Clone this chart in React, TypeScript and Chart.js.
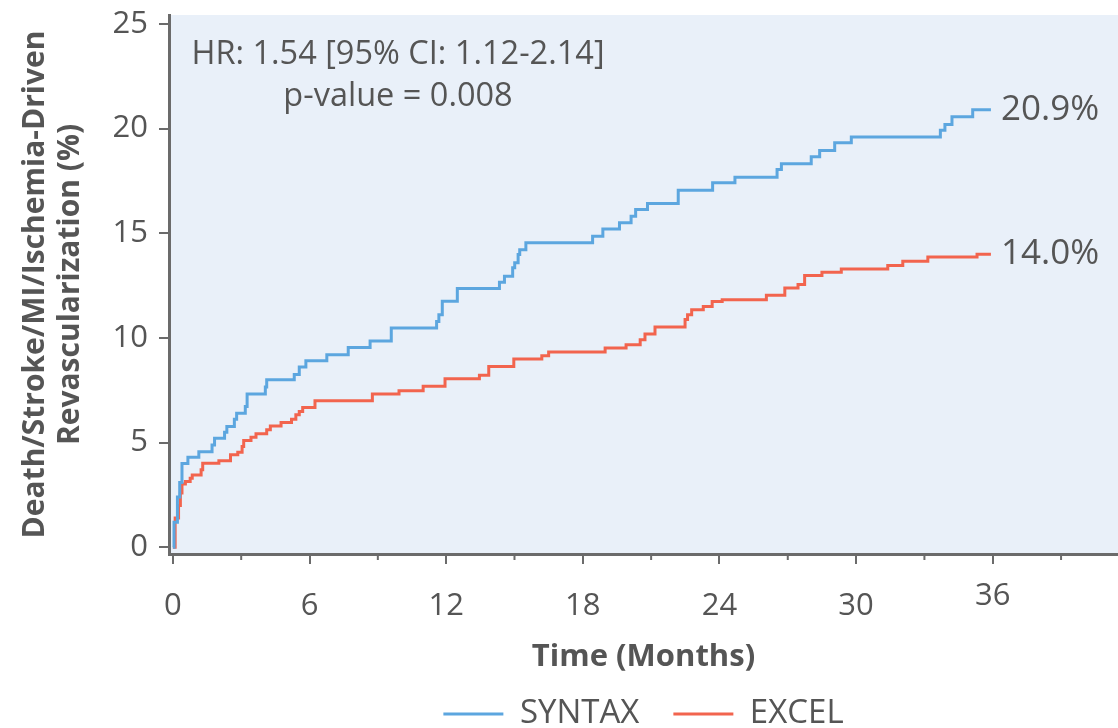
import React, { useEffect, useRef } from 'react';
import { Chart, registerables } from 'chart.js';

Chart.register(...registerables);

// ---- Data ----
const syntaxMonths = [0, 0.05, 0.2, 0.3, 0.4, 0.66, 1.14, 1.72, 1.83, 2.27, 2.37, 2.7, 2.8, 3.18, 3.26, 4.06, 4.12, 5.33, 5.55, 5.84, 6.76, 7.7, 8.66, 9.59, 11.58, 11.68, 11.83, 12.49, 14.34, 14.56, 14.92, 15.01, 15.16, 15.23, 15.5, 18.43, 18.88, 19.61, 20.12, 20.32, 20.84, 22.19, 23.7, 24.68, 26.53, 26.72, 28.03, 28.4, 29.06, 29.79, 33.7, 33.9, 34.21, 35.12, 35.92];
const syntaxRisk = [0, 1.2, 2.4, 3.1, 4.0, 4.3, 4.57, 4.89, 5.21, 5.5, 5.77, 6.12, 6.41, 6.73, 7.32, 7.66, 8.0, 8.26, 8.61, 8.91, 9.2, 9.55, 9.86, 10.48, 10.79, 11.11, 11.75, 12.36, 12.66, 12.95, 13.35, 13.59, 13.99, 14.22, 14.55, 14.86, 15.21, 15.5, 15.82, 16.14, 16.43, 17.06, 17.42, 17.68, 18.05, 18.32, 18.66, 18.96, 19.33, 19.6, 19.93, 20.2, 20.57, 20.9, 20.9];

const excelMonths = [0, 0.1, 0.25, 0.33, 0.4, 0.55, 0.76, 0.85, 1.24, 1.31, 2.02, 2.53, 2.85, 3.04, 3.11, 3.43, 3.65, 4.12, 4.28, 4.75, 5.21, 5.4, 5.55, 5.7, 6.24, 8.76, 9.93, 10.99, 11.95, 13.46, 13.87, 14.97, 16.2, 16.5, 18.98, 19.9, 20.52, 20.73, 21.17, 22.49, 22.6, 22.78, 23.29, 23.68, 24.12, 26.06, 26.87, 27.45, 27.74, 28.5, 29.35, 31.39, 32.05, 33.15, 35.31, 35.92];
const excelRisk = [0, 1.4, 2.0, 2.6, 3.03, 3.14, 3.3, 3.46, 3.7, 4.02, 4.14, 4.42, 4.54, 4.81, 5.1, 5.26, 5.42, 5.61, 5.8, 5.96, 6.12, 6.33, 6.49, 6.68, 7.0, 7.32, 7.48, 7.69, 8.05, 8.22, 8.64, 9.0, 9.15, 9.33, 9.52, 9.68, 9.92, 10.19, 10.53, 10.88, 11.11, 11.35, 11.5, 11.74, 11.83, 12.04, 12.39, 12.55, 12.98, 13.14, 13.3, 13.46, 13.66, 13.87, 14.0, 14.0];

const seriesNames = ['SYNTAX', 'EXCEL'];
const endLabels = ['20.9%', '14.0%'];
const xTickValues = [0, 6, 12, 18, 24, 30, 36];
const xMinorTickValues = [3, 9, 15, 21, 27, 33, 39];
const yTickValues = [0, 5, 10, 15, 20, 25];
const annotationLines = ['HR: 1.54 [95% CI: 1.12-2.14]', 'p-value = 0.008'];
const yTitleLines = ['Death/Stroke/MI/Ischemia-Driven', 'Revascularization (%)'];
const xTitleText = 'Time (Months)';

// ---- Styles ----
const FONT = '"Open Sans", Lato, sans-serif';
const TEXT = '#555555';
const AXIS = '#6b6b6b';
const BLUE = '#5ca6df';
const RED = '#f2644e';
const BG = '#e9f0f9';

const customPlugin = {
  id: 'kmCustom',
  beforeDraw(chart: any) {
    const { ctx, chartArea: a } = chart;
    ctx.save();
    ctx.fillStyle = BG;
    ctx.fillRect(a.left, a.top, a.right - a.left, a.bottom - a.top);
    ctx.restore();
  },
  afterDraw(chart: any) {
    const { ctx, chartArea: a, scales } = chart;
    const x = scales.x;
    ctx.save();
    // minor ticks
    ctx.strokeStyle = AXIS;
    ctx.lineWidth = 2;
    xMinorTickValues.forEach((v) => {
      const px = x.getPixelForValue(v);
      if (px <= a.right) {
        ctx.beginPath();
        ctx.moveTo(px, a.bottom);
        ctx.lineTo(px, a.bottom + 6);
        ctx.stroke();
      }
    });
    // raised last x tick label
    const last = xTickValues[xTickValues.length - 1];
    ctx.fillStyle = TEXT;
    ctx.font = `31px ${FONT}`;
    ctx.textAlign = 'center';
    ctx.textBaseline = 'middle';
    ctx.fillText(String(last), x.getPixelForValue(last), a.bottom + 42);
    // annotation
    ctx.font = `32.5px ${FONT}`;
    const cx = a.left + 229;
    ctx.fillText(annotationLines[0], cx, a.top + 40);
    ctx.fillText(annotationLines[1], cx, a.top + 82);
    // end labels
    ctx.font = `35px ${FONT}`;
    ctx.textAlign = 'left';
    chart.data.datasets.forEach((ds: any, i: number) => {
      const meta = chart.getDatasetMeta(i);
      const pt = meta.data[meta.data.length - 1];
      ctx.fillText(endLabels[i], pt.x + 10, pt.y);
    });
    ctx.restore();
  },
};

export default function App() {
  const ref = useRef<HTMLCanvasElement | null>(null);
  useEffect(() => {
    if (!ref.current) return;
    const toPts = (xs: number[], ys: number[]) => xs.map((m, i) => ({ x: m, y: ys[i] }));
    const chart = new Chart(ref.current, {
      type: 'line',
      data: {
        datasets: [
          {
            label: seriesNames[0],
            data: toPts(syntaxMonths, syntaxRisk),
            borderColor: BLUE,
            backgroundColor: BLUE,
            borderWidth: 3,
            stepped: true,
            pointRadius: 0,
            fill: false,
          },
          {
            label: seriesNames[1],
            data: toPts(excelMonths, excelRisk),
            borderColor: RED,
            backgroundColor: RED,
            borderWidth: 3,
            stepped: true,
            pointRadius: 0,
            fill: false,
          },
        ],
      },
      options: {
        animation: false,
        responsive: false,
        layout: { padding: { top: 15, bottom: -12.5, left: 0, right: 0 } },
        plugins: {
          tooltip: { enabled: false },
          legend: {
            position: 'bottom',
            fullSize: false,
            labels: {
              font: { family: FONT, size: 33 },
              color: TEXT,
              boxWidth: 60,
              boxHeight: 3,
              padding: 34,
              generateLabels: (c: any) =>
                c.data.datasets.map((ds: any, i: number) => ({
                  text: ds.label,
                  fillStyle: ds.borderColor,
                  strokeStyle: ds.borderColor,
                  lineWidth: 0,
                  hidden: false,
                  datasetIndex: i,
                  fontColor: TEXT,
                })),
            },
          },
        },
        scales: {
          x: {
            type: 'linear',
            min: -0.17,
            max: 41.5,
            afterBuildTicks: (s: any) => {
              s.ticks = xTickValues.map((v) => ({ value: v }));
            },
            afterFit: (s: any) => {
              s.height = 109.5;
            },
            grid: { drawOnChartArea: false, drawTicks: true, tickLength: 10, color: AXIS, lineWidth: 2 },
            border: { display: true, color: AXIS, width: 3 },
            ticks: {
              font: { family: FONT, size: 31 },
              color: TEXT,
              padding: 24,
              maxRotation: 0,
              autoSkip: false,
              callback: (v: any) => (v === xTickValues[xTickValues.length - 1] ? '' : String(v)),
            },
            title: {
              display: true,
              text: xTitleText,
              font: { family: FONT, size: 31, weight: 'bold' },
              color: TEXT,
              padding: { top: 0, bottom: -12 },
            },
          },
          y: {
            type: 'linear',
            min: -0.32,
            max: 25.43,
            afterBuildTicks: (s: any) => {
              s.ticks = yTickValues.map((v) => ({ value: v }));
            },
            afterFit: (s: any) => {
              s.width = 169;
            },
            grid: { drawOnChartArea: false, drawTicks: true, tickLength: 10, color: AXIS, lineWidth: 2 },
            border: { display: true, color: AXIS, width: 3 },
            ticks: {
              font: { family: FONT, size: 31, lineHeight: 0.1 },
              color: TEXT,
              padding: 11,
              autoSkip: false,
            },
            title: {
              display: true,
              text: yTitleLines,
              font: { family: FONT, size: 30, weight: 'bold', lineHeight: '35px' },
              color: TEXT,
              padding: { top: 17.5, bottom: 0 },
            },
          },
        },
      },
      plugins: [customPlugin],
    } as any);
    return () => chart.destroy();
  }, []);
  return (
    <div style={{ position: 'absolute', left: 0, top: 0, width: 1118, height: 728, background: '#fff' }}>
      <canvas ref={ref} width={1118} height={728} style={{ display: 'block' }} />
    </div>
  );
}
